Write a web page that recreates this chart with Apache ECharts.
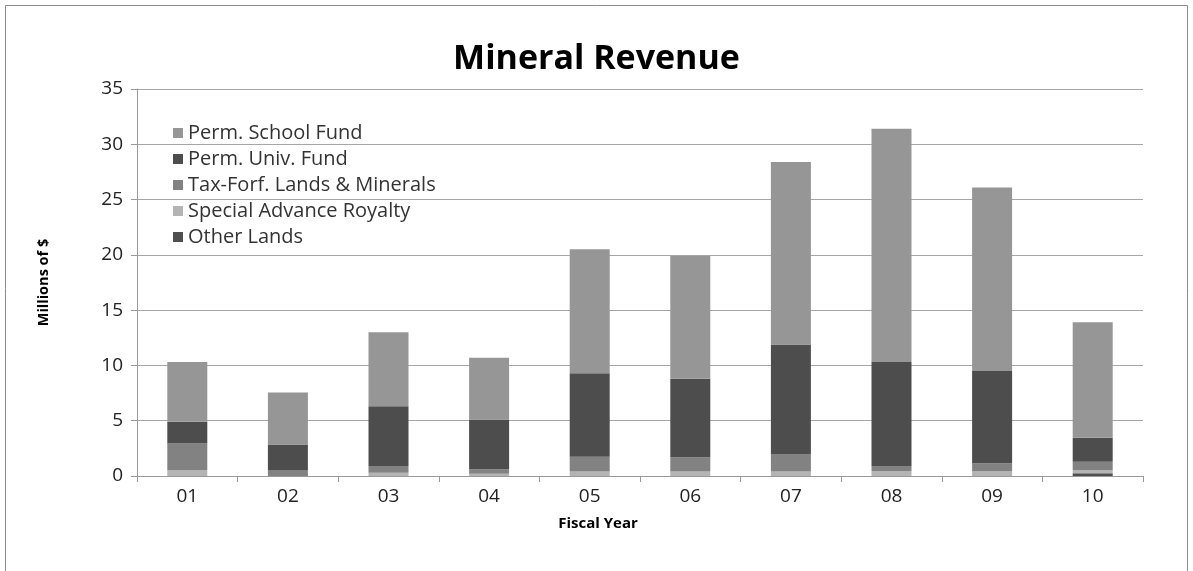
<!DOCTYPE html>
<html>
<head>
<meta charset="utf-8">
<script src="https://cdn.jsdelivr.net/npm/echarts@6/dist/echarts.min.js"></script>
<style>
html,body{margin:0;padding:0;background:#fff;}
#c{width:1193px;height:571px;}
</style>
</head>
<body>
<div id="c"></div>
<script>
const categories = ['01','02','03','04','05','06','07','08','09','10'];
const permSchoolFund = [5.4, 4.7, 6.7, 5.6, 11.2, 11.1, 16.5, 21.1, 16.6, 10.45];
const permUnivFund = [1.95, 2.3, 5.4, 4.5, 7.55, 7.1, 9.95, 9.4, 8.35, 2.15];
const taxForfLands = [2.4, 0.55, 0.6, 0.4, 1.35, 1.3, 1.55, 0.45, 0.7, 0.75];
const specialAdvanceRoyalty = [0.55, 0, 0.3, 0.2, 0.4, 0.4, 0.4, 0.45, 0.45, 0.3];
const otherLands = [0, 0, 0, 0, 0, 0, 0, 0, 0, 0.25];
const yTicks = [0, 5, 10, 15, 20, 25, 30, 35];

const FONT = '"Open Sans", sans-serif';
const chart = echarts.init(document.getElementById('c'), null, {renderer: 'canvas'});

function bar(name, data, color) {
  return {
    name: name, type: 'bar', stack: 'total', data: data, barWidth: 40,
    itemStyle: {color: color}
  };
}

chart.setOption({
  animation: false,
  backgroundColor: '#fff',
  title: {
    text: 'Mineral Revenue', left: 'center', top: 37,
    textStyle: {fontFamily: FONT, fontWeight: 'bold', fontSize: 34, color: '#000'}
  },
  graphic: [{
    type: 'rect', shape: {x: 5.5, y: 5.5, width: 1182, height: 600},
    style: {fill: 'none', stroke: '#8c8c8c', lineWidth: 1}, silent: true
  }],
  legend: {
    orient: 'vertical', left: 168, top: 118,
    itemWidth: 10, itemHeight: 10, itemGap: 6,
    data: ['Perm. School Fund', 'Perm. Univ. Fund', 'Tax-Forf. Lands & Minerals', 'Special Advance Royalty', 'Other Lands'],
    textStyle: {fontFamily: FONT, fontSize: 20, lineHeight: 20, color: '#333'},
    icon: 'rect'
  },
  grid: {left: 137, right: 50, top: 89, bottom: 95},
  xAxis: {
    type: 'category', data: categories,
    name: 'Fiscal Year', nameLocation: 'middle', nameGap: 40,
    nameTextStyle: {fontFamily: FONT, fontWeight: 'bold', fontSize: 15, color: '#000', padding: [0, 84, 0, 0]},
    axisLine: {lineStyle: {color: '#999', width: 1}},
    axisTick: {show: true, length: 6, lineStyle: {color: '#999'}},
    axisLabel: {fontFamily: FONT, fontSize: 19, color: '#222', margin: 11}
  },
  yAxis: {
    type: 'value', min: yTicks[0], max: yTicks[yTicks.length - 1], interval: 5,
    name: 'Millions of $', nameLocation: 'middle', nameGap: 86, nameRotate: 90,
    nameTextStyle: {fontFamily: FONT, fontWeight: 'bold', fontSize: 14.5, color: '#000'},
    axisLine: {show: true, lineStyle: {color: '#999', width: 1}},
    axisTick: {show: true, length: 6, lineStyle: {color: '#999'}},
    axisLabel: {fontFamily: FONT, fontSize: 19, color: '#222', margin: 14},
    splitLine: {lineStyle: {color: '#a6a6a6', width: 1}}
  },
  series: [
    bar('Other Lands', otherLands, '#4f4f4f'),
    bar('Special Advance Royalty', specialAdvanceRoyalty, '#b4b4b4'),
    bar('Tax-Forf. Lands & Minerals', taxForfLands, '#828282'),
    bar('Perm. Univ. Fund', permUnivFund, '#4d4d4d'),
    bar('Perm. School Fund', permSchoolFund, '#969696')
  ]
});
</script>
</body>
</html>
